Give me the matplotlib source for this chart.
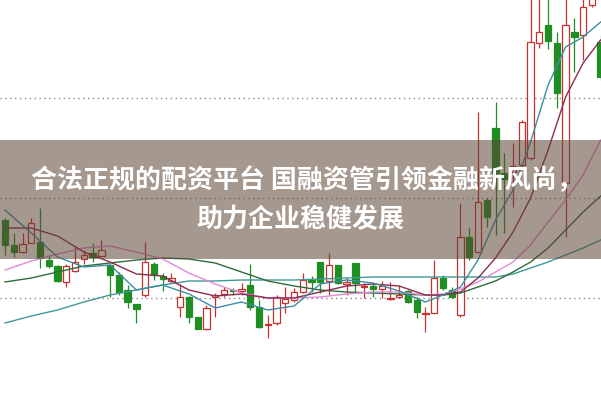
import matplotlib
matplotlib.use('Agg')
import matplotlib.pyplot as plt
from matplotlib.patches import Rectangle

plt.rcParams['font.family'] = ['Noto Sans CJK SC', 'DejaVu Sans']

# K线数据 (开, 收, 高, 低)
opens = [180, 155, 148, 157, 158, 140, 134, 118, 129, 141, 147, 144, 135, 125, 110, 96,
         105, 136, 124, 119, 93, 103, 83, 71, 103, 106, 110, 109, 115, 93, 75, 77,
         97, 100, 108, 120, 138, 119, 135, 116, 137, 113, 114, 111, 101, 103, 109, 100,
         86, 87, 122, 110, 85, 163, 148, 200, 272, 227, 228, 235, 242, 357, 375, 357,
         217, 368, 365, 395, 358]
closes = [155, 148, 156, 177, 142, 134, 119, 134, 138, 145, 143, 150, 125, 108, 98, 91,
          138, 125, 121, 122, 103, 83, 71, 92, 105, 110, 109, 111, 93, 73, 76, 103,
          101, 108, 120, 118, 118, 135, 117, 118, 117, 114, 111, 114, 102, 105, 98, 88,
          87, 122, 112, 103, 163, 143, 198, 183, 227, 221, 234, 278, 358, 368, 359, 307,
          375, 363, 393, 408, 323]
highs = [182, 167, 167, 182, 192, 145, 135, 136, 153, 150, 157, 160, 136, 128, 115, 96,
         158, 138, 127, 127, 116, 104, 83, 95, 107, 113, 112, 117, 136, 100, 85, 105,
         113, 112, 127, 124, 138, 147, 135, 122, 137, 117, 117, 119, 118, 115, 110, 103,
         93, 140, 125, 113, 197, 173, 288, 202, 298, 247, 257, 280, 410, 405, 405, 368,
         405, 382, 405, 415, 365]
lows = [145, 143, 147, 157, 132, 132, 118, 113, 128, 136, 138, 144, 103, 105, 92, 77,
        103, 120, 109, 117, 83, 77, 71, 70, 83, 103, 105, 105, 90, 72, 62, 75,
        87, 98, 107, 108, 107, 105, 116, 105, 107, 102, 103, 102, 100, 102, 97, 82,
        68, 87, 110, 102, 83, 140, 148, 173, 165, 167, 193, 232, 240, 352, 351, 292,
        163, 328, 340, 393, 320]

# 均线 (取样点)
ma_idx = [0, 3, 6, 9, 12, 15, 18, 21, 24, 27, 30, 33, 36, 39, 42, 45, 48, 50, 52, 54,
          56, 58, 60, 62, 64, 66, 68]
ma5 = [190, 167, 143, 133, 135, 110, 115, 106, 92, 98, 90, 94, 116, 120, 117, 109, 98,
       105, 113, 140, 180, 210, 258, 315, 353, 363, 378]
ma10 = [172, 172, 164, 148, 138, 126, 124, 110, 104, 106, 102, 102, 108, 114, 116, 114,
        105, 105, 108, 122, 142, 168, 202, 250, 303, 337, 360]
ma20 = [130, 139, 146, 152, 154, 148, 141, 127, 116, 107, 102, 102, 103, 106, 108, 108,
        105, 106, 111, 118, 128, 138, 155, 178, 200, 225, 260]
ma30 = [118, 122, 128, 134, 137, 140, 142, 141, 137, 128, 119, 114, 110, 108, 107, 106,
        105, 105, 107, 113, 119, 128, 138, 152, 170, 188, 204]
ma60 = [77, 84, 90, 98, 105, 110, 115, 119, 119, 120, 120, 120, 121, 122, 123, 123, 123,
        123, 123, 123, 123, 126, 132, 138, 145, 152, 160]

grid_levels = [302, 202, 102]

title_1 = '合法正规的配资平台 国融资管引领金融新风尚，'
title_2 = '助力企业稳健发展'

red = '#c8302f'
green = '#1f8f24'

fig = plt.figure(figsize=(6.01, 4.0), dpi=100)
ax = fig.add_axes([0, 0, 1, 1])
ax.set_xlim(-0.57, 68.04)
ax.set_ylim(0, 400)
ax.axis('off')

for lvl in grid_levels:
    ax.axhline(lvl, color='#8a8a8a', lw=1, ls=(0, (1, 2.5)), zorder=1)

w = 0.72
for i, (o, c, h, l) in enumerate(zip(opens, closes, highs, lows)):
    up = c >= o
    col = red if up else green
    ax.vlines(i, l, h, color=col, lw=0.9, zorder=2)
    bottom = min(o, c)
    height = max(abs(c - o), 1)
    ax.add_patch(Rectangle((i - w / 2, bottom), w, height,
                           facecolor='white' if up else col,
                           edgecolor=col, lw=0.9, zorder=3))

ax.plot(ma_idx, ma60, color='#3c9a98', lw=1, zorder=4)
ax.plot(ma_idx, ma30, color='#2f6b3a', lw=1, zorder=4)
ax.plot(ma_idx, ma20, color='#e48ad6', lw=1, zorder=4)
ax.plot(ma_idx, ma10, color='#8b2c50', lw=1, zorder=4)
ax.plot(ma_idx, ma5, color='#3b8ea5', lw=1, zorder=4)

# 标题横幅
ax.axhspan(141, 260, color='#5c4433', alpha=0.55, lw=0, zorder=5)
fig.text(31 / 601, 1 - 181 / 400, title_1, color='white', fontsize=18.7,
         fontweight='bold', ha='left', va='center', zorder=6)
fig.text(0.5, 1 - 220 / 400, title_2, color='white', fontsize=18.7,
         fontweight='bold', ha='center', va='center', zorder=6)

fig.savefig('out.png', dpi=100)
